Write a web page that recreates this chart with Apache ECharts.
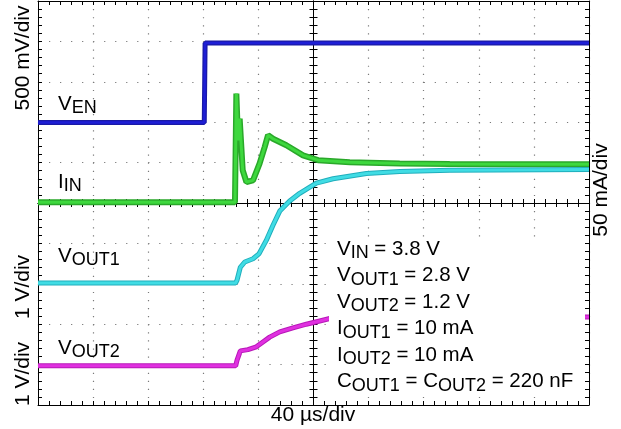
<!DOCTYPE html>
<html>
<head>
<meta charset="utf-8">
<script src="https://cdn.jsdelivr.net/npm/echarts@6/dist/echarts.min.js"></script>
<style>
html,body{margin:0;padding:0;background:#fff;}
#chart{width:621px;height:429px;}
</style>
</head>
<body>
<div id="chart"></div>
<script>
// Time axis in microseconds (40 us/div), vertical values in screen divisions (center = 0)
const xTicks = { min: -200, max: 200, interval: 40 };
const yTicks = { min: -5, max: 5, interval: 1 };

// V_EN (500 mV/div)
const venT = [-200, -79.3, -78.7, 200];
const venV = [1.99, 1.99, 3.96, 3.96];

// I_IN (50 mA/div)
const iinT = [-200, -57.0, -56.0, -54.8, -53.6, -51.4, -48.7, -43.9, -39.1, -35.4, -33.0, -29.4, -19.7, -7.6, 3.3, 26.3, 62.6, 98.9, 150, 200];
const iinV = [0.02, 0.02, 2.71, 1.55, 2.09, 0.81, 0.52, 0.56, 0.98, 1.39, 1.68, 1.59, 1.43, 1.18, 1.06, 1.01, 0.975, 0.965, 0.96, 0.96];

// V_OUT1 (1 V/div)
const vo1T = [-200, -56.5, -55.5, -53.1, -49.9, -43.9, -39.6, -34.2, -29.4, -24.5, -17.3, -10.0, 2.0, 14.2, 38.4, 62.6, 98.9, 200];
const vo1V = [-1.98, -1.98, -1.91, -1.59, -1.46, -1.38, -1.26, -0.92, -0.55, -0.2, 0.05, 0.24, 0.49, 0.60, 0.73, 0.78, 0.81, 0.83];

// V_OUT2 (1 V/div)
const vo2T = [-200, -56.5, -55.5, -53.1, -47.6, -41.5, -36.7, -31.8, -24.5, -14.9, -5.2, 4.5, 11.8, 40, 100, 200];
const vo2V = [-4.03, -4.03, -3.89, -3.66, -3.63, -3.56, -3.44, -3.32, -3.19, -3.09, -3.00, -2.92, -2.86, -2.83, -2.82, -2.82];

const FONT = '"Liberation Sans", Arial, Helvetica, sans-serif';

function pairs(t, v) { return t.map((x, i) => [x, v[i]]); }

function axisCommon(inside, split, gap) {
  return {
    type: 'value',
    axisTick: { show: true, inside: inside, length: 4, lineStyle: { color: '#000', width: 1 } },
    minorTick: { show: true, splitNumber: 5, length: 4, lineStyle: { color: '#000', width: 1 } },
    axisLabel: { show: false },
    splitLine: { show: split, lineStyle: { color: '#7a7a7a', width: 1.2, type: [1.2, gap] } },
    minorSplitLine: { show: false }
  };
}
function xAx(pos, inside, center, split) {
  return Object.assign(axisCommon(inside, split, 6.88), {
    position: pos, min: xTicks.min, max: xTicks.max, interval: xTicks.interval,
    axisLine: { show: true, onZero: center, onZeroAxisIndex: 0, lineStyle: { color: '#000', width: 1 } }
  });
}
function yAx(pos, inside, center, split) {
  return Object.assign(axisCommon(inside, split, 9.82), {
    position: pos, min: yTicks.min, max: yTicks.max, interval: yTicks.interval,
    axisLine: { show: true, onZero: center, onZeroAxisIndex: 0, lineStyle: { color: '#000', width: 1 } }
  });
}

function trace(t, v, outer, inner, wOut, wIn, z) {
  const d = pairs(t, v);
  return [
    { type: 'line', data: d, showSymbol: false, silent: true, z: z,
      lineStyle: { color: outer, width: wOut }, animation: false },
    { type: 'line', data: d, showSymbol: false, silent: true, z: z + 0.5,
      lineStyle: { color: inner, width: wIn }, animation: false }
  ];
}

const rich = {
  m: { fontSize: 20.5, fontFamily: FONT, color: '#000', lineHeight: 26.5, verticalAlign: 'middle' },
  s: { fontSize: 18, fontFamily: FONT, color: '#000', lineHeight: 26.5, verticalAlign: 'bottom' }
};

function label(x, y, text) {
  return { type: 'text', x: x, y: y, z: 101, silent: true,
    style: { text: text, rich: rich, fill: '#000', font: '20px ' + FONT } };
}
function rotLabel(x, y, text) {
  return { type: 'text', x: x, y: y, rotation: Math.PI / 2, z: 101, silent: true,
    style: { text: text, fill: '#000', font: '21px ' + FONT, align: 'center', verticalAlign: 'middle' } };
}

const annotation = [
  '{m|V}{s|IN}{m| = 3.8 V}',
  '{m|V}{s|OUT1}{m| = 2.8 V}',
  '{m|V}{s|OUT2}{m| = 1.2 V}',
  '{m|I}{s|OUT1}{m| = 10 mA}',
  '{m|I}{s|OUT2}{m| = 10 mA}',
  '{m|C}{s|OUT1}{m| = C}{s|OUT2}{m| = 220 nF}'
].join('\n');

const chart = echarts.init(document.getElementById('chart'), null, { renderer: 'canvas' });
chart.setOption({
  animation: false,
  backgroundColor: '#fff',
  grid: { left: 38, top: 1, width: 551, height: 404, show: false },
  xAxis: [
    xAx('bottom', true, false, true),
    xAx('top', true, false, false),
    xAx('bottom', true, true, false),
    xAx('bottom', false, true, false)
  ],
  yAxis: [
    yAx('left', true, false, true),
    yAx('right', true, false, false),
    yAx('left', true, true, false),
    yAx('left', false, true, false)
  ],
  series: [].concat(
    trace(venT, venV, '#1a1aa6', '#1e1ed6', 5, 2.5, 10),
    trace(iinT, iinV, '#2aa82a', '#3ed83e', 6, 3, 12),
    trace(vo1T, vo1V, '#20aebc', '#40dce4', 5, 3, 14),
    trace(vo2T, vo2V, '#b818b8', '#e030e0', 5, 3, 16)
  ),
  graphic: [
    { type: 'rect', z: 100, silent: true, shape: { x: 329, y: 237, width: 256, height: 157 },
      style: { fill: '#fff' } },
    label(337, 235.8, annotation),
    label(58, 90.8, '{m|V}{s|EN}'),
    label(58, 168.8, '{m|I}{s|IN}'),
    label(58, 242.8, '{m|V}{s|OUT1}'),
    label(58, 334.8, '{m|V}{s|OUT2}'),
    rotLabel(23, 58, '500 mV/div'),
    rotLabel(23, 287, '1 V/div'),
    rotLabel(23, 374, '1 V/div'),
    rotLabel(601, 190, '50 mA/div'),
    { type: 'text', x: 313, y: 415, z: 101, silent: true,
      style: { text: '40 \u00b5s/div', fill: '#000', font: '21px ' + FONT, align: 'center', verticalAlign: 'middle' } }
  ]
});
</script>
</body>
</html>
